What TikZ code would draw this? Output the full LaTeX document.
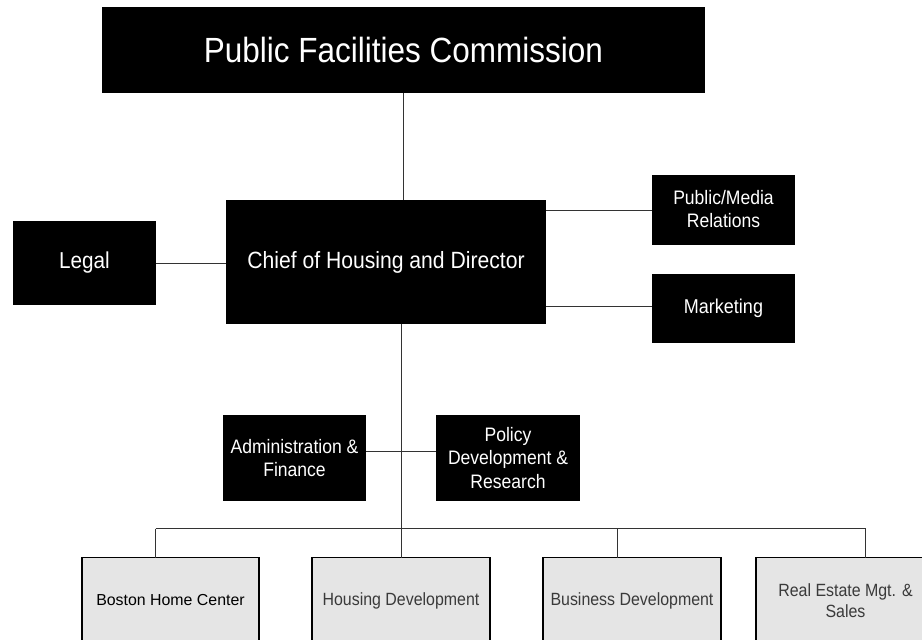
\documentclass[tikz,border=0pt]{standalone}
\usepackage{fontspec}
\setmainfont{Liberation Sans}
\newfontfamily\cond[FakeStretch=0.9]{Liberation Sans}
\definecolor{boxgray}{HTML}{E5E5E5}
\definecolor{subtext}{HTML}{3A3A3A}
\definecolor{linecol}{HTML}{333333}
\begin{document}
\begin{tikzpicture}[x=1pt,y=-1pt,
  blk/.style={fill=black,text=white,draw=none,inner sep=0pt,outer sep=0pt,align=center},
  sub/.style={fill=boxgray,draw=black,line width=1.6pt,inner sep=0pt,outer sep=0pt,align=center,
              minimum width=178pt,minimum height=86pt,text=subtext},
  link/.style={draw=linecol,line width=1pt}]
\clip (0,0) rectangle (922,640);
\fill[white] (0,0) rectangle (922,640);

% black boxes
\node[blk,minimum width=603pt,minimum height=86pt,font={\cond\fontsize{35}{40}\selectfont}]
  (top) at (403.5,50) {Public Facilities Commission};
\node[blk,minimum width=320pt,minimum height=124pt,font={\cond\fontsize{23.5}{28}\selectfont}]
  (chief) at (386,262) {Chief of Housing and Director};
\node[blk,minimum width=143pt,minimum height=84pt,font={\cond\fontsize{23}{28}\selectfont}]
  (legal) at (84.5,263) {Legal};
\node[blk,minimum width=143pt,minimum height=70pt,font={\cond\fontsize{19.5}{23}\selectfont}]
  (media) at (723.5,209.5) {Public/Media\\Relations};
\node[blk,minimum width=143pt,minimum height=69pt,font={\cond\fontsize{20}{24}\selectfont}]
  (market) at (723.5,308.5) {Marketing};
\node[blk,minimum width=143pt,minimum height=86pt,font={\cond\fontsize{19.5}{23}\selectfont}]
  (admin) at (294.5,458) {Administration \&\\Finance};
\node[blk,minimum width=144pt,minimum height=86pt,font={\cond\fontsize{19.5}{23.5}\selectfont}]
  (policy) at (508,458) {Policy\\Development \&\\Research};

% bottom boxes
\node[sub,minimum width=177pt,font={\fontsize{15.9}{19}\selectfont},text=black]
  (boston) at (170.5,600.5) {Boston Home Center};
\node[sub,font={\cond\fontsize{17.7}{21}\selectfont}]
  (housing) at (401,600.5) {Housing Development};
\node[sub,font={\cond\fontsize{17.7}{21}\selectfont}]
  (business) at (632,600.5) {Business Development};
\node[sub,minimum width=179pt,font={\cond\fontsize{17.7}{21}\selectfont}]
  (realestate) at (845.5,600.5) {Real Estate Mgt. \&\\Sales};

% connectors
\draw[link] (top.south) -- (top.south |- chief.north);
\draw[link] (legal.east) -- (legal.east -| chief.west);
\draw[link] ([yshift=-0.5pt]media.west) -- ([yshift=-0.5pt]media.west -| chief.east);
\draw[link] ([yshift=1.8pt]market.west) -- ([yshift=1.8pt]market.west -| chief.east);
\draw[link] (chief.south -| housing.north) -- (housing.north);
\draw[link] ([yshift=7pt]admin.east) -- ([yshift=7pt]policy.west);

\coordinate (b1) at (155.5,528.5);
\coordinate (b3) at (617,528.5);
\coordinate (b4) at (865.5,528.5);
\draw[link] (b1) -- (b4);
\draw[link] (b1) -- (b1 |- boston.north);
\draw[link] (b3) -- (b3 |- business.north);
\draw[link] (b4) -- (b4 |- realestate.north);
\end{tikzpicture}
\end{document}
